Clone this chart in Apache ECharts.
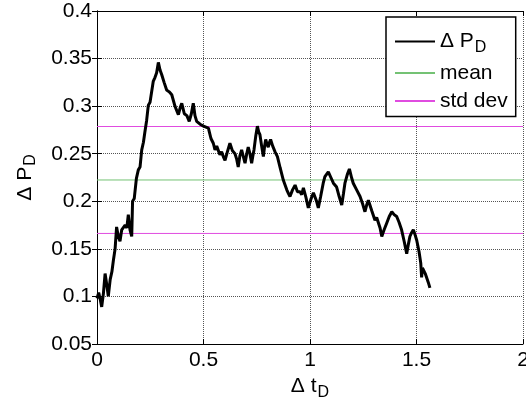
<!DOCTYPE html>
<html>
<head>
<meta charset="utf-8">
<script src="https://cdn.jsdelivr.net/npm/echarts@6/dist/echarts.min.js"></script>
<style>
html,body{margin:0;padding:0;background:#fff;}
#chart{width:526px;height:409px;}
</style>
</head>
<body>
<div id="chart"></div>
<script>
// Δ t_D values
const tValues = [0.000,0.008,0.015,0.022,0.030,0.038,0.046,0.053,0.062,0.070,0.077,0.085,0.092,0.100,0.108,0.116,0.124,0.132,0.140,0.147,0.155,0.163,0.167,0.175,0.185,0.194,0.202,0.210,0.218,0.225,0.233,0.241,0.249,0.257,0.264,0.272,0.280,0.288,0.296,0.304,0.315,0.327,0.339,0.351,0.366,0.382,0.390,0.398,0.410,0.422,0.433,0.443,0.452,0.460,0.468,0.484,0.500,0.507,0.523,0.535,0.546,0.554,0.562,0.570,0.577,0.585,0.593,0.601,0.612,0.624,0.636,0.648,0.656,0.663,0.671,0.679,0.687,0.695,0.703,0.710,0.718,0.726,0.732,0.737,0.745,0.753,0.759,0.765,0.773,0.781,0.787,0.792,0.798,0.804,0.810,0.815,0.825,0.836,0.847,0.860,0.875,0.891,0.899,0.906,0.918,0.930,0.941,0.953,0.961,0.969,0.980,0.992,1.004,1.016,1.023,1.031,1.039,1.050,1.062,1.070,1.078,1.086,1.098,1.110,1.118,1.125,1.137,1.149,1.157,1.164,1.175,1.185,1.195,1.203,1.219,1.235,1.246,1.258,1.266,1.274,1.290,1.305,1.313,1.321,1.329,1.337,1.348,1.360,1.372,1.384,1.395,1.407,1.418,1.430,1.442,1.454,1.462,1.469,1.477,1.485,1.493,1.501,1.512,1.520,1.524,1.528,1.535,1.541,1.548,1.555,1.563];
// Δ P_D values
const pValues = [0.098,0.104,0.097,0.089,0.103,0.124,0.112,0.100,0.118,0.126,0.138,0.150,0.173,0.163,0.158,0.170,0.168,0.175,0.172,0.186,0.170,0.163,0.200,0.203,0.224,0.233,0.236,0.254,0.262,0.273,0.285,0.301,0.304,0.306,0.326,0.330,0.335,0.346,0.338,0.333,0.325,0.317,0.315,0.312,0.300,0.291,0.298,0.303,0.292,0.290,0.284,0.292,0.303,0.290,0.284,0.281,0.279,0.278,0.277,0.266,0.261,0.254,0.258,0.257,0.249,0.252,0.247,0.243,0.252,0.261,0.253,0.250,0.244,0.236,0.248,0.254,0.247,0.240,0.250,0.257,0.250,0.240,0.248,0.254,0.268,0.279,0.273,0.270,0.258,0.247,0.258,0.265,0.260,0.257,0.262,0.265,0.258,0.252,0.247,0.235,0.222,0.212,0.208,0.205,0.212,0.217,0.210,0.210,0.207,0.214,0.205,0.193,0.202,0.209,0.210,0.200,0.193,0.205,0.219,0.226,0.225,0.231,0.225,0.219,0.218,0.215,0.205,0.196,0.208,0.219,0.228,0.234,0.225,0.219,0.212,0.205,0.198,0.189,0.196,0.201,0.190,0.180,0.183,0.184,0.172,0.163,0.170,0.177,0.184,0.189,0.186,0.184,0.178,0.170,0.158,0.145,0.155,0.163,0.167,0.170,0.165,0.159,0.147,0.135,0.120,0.130,0.128,0.124,0.122,0.115,0.109];
const meanValue = 0.2224;
const stdValue = 0.0562;
const xRange = [0, 2];

const FONT = "'Liberation Sans', Arial, Helvetica, sans-serif";
const curve = tValues.map((t, i) => [t, pValues[i]]);
const hLine = v => [[xRange[0], v], [xRange[1], v]];

const chart = echarts.init(document.getElementById('chart'), null, {renderer: 'canvas'});

const axisCommon = {
  type: 'value',
  axisLine: {show: true, lineStyle: {color: '#000', width: 1}},
  axisTick: {show: true, inside: true, length: 5, lineStyle: {color: '#000'}},
  axisLabel: {color: '#000', fontSize: 21, fontFamily: FONT},
  splitLine: {show: true, lineStyle: {color: '#555', type: 'dotted', width: 1}}
};

const rich = {
  a: {fontSize: 21, fontFamily: FONT, color: '#000'},
  sub: {fontSize: 16, fontFamily: FONT, color: '#000', padding: [12, 0, 0, 1]}
};

chart.setOption({
  animation: false,
  backgroundColor: '#fff',
  grid: {left: 97, right: 3, top: 11, bottom: 65, containLabel: false, outerBoundsMode: 'none'},
  xAxis: [
    Object.assign({}, axisCommon, {
      min: 0, max: 2, interval: 0.5, position: 'bottom',
      axisLabel: {color: '#000', fontSize: 21, fontFamily: FONT, margin: 6,
        formatter: v => String(v)},
      name: '{a|Δ t}{sub|D}', nameLocation: 'middle', nameGap: 28,
      nameTextStyle: {rich: rich}
    }),
    {
      type: 'value', min: 0, max: 2, interval: 0.5, position: 'top',
      axisLine: {show: true, lineStyle: {color: '#000'}},
      axisTick: {show: true, inside: true, length: 5, lineStyle: {color: '#000'}},
      axisLabel: {show: false}, splitLine: {show: false}
    }
  ],
  yAxis: [
    Object.assign({}, axisCommon, {
      min: 0.05, max: 0.4, interval: 0.05, position: 'left',
      axisLabel: {color: '#000', fontSize: 21, fontFamily: FONT, margin: 5,
        formatter: v => String(+v.toFixed(2))},
      name: '{a|Δ P}{sub|D}', nameLocation: 'middle', nameGap: 58, nameRotate: 90,
      nameTextStyle: {rich: rich}
    }),
    {
      type: 'value', min: 0.05, max: 0.4, interval: 0.05, position: 'right',
      axisLine: {show: true, lineStyle: {color: '#000'}},
      axisTick: {show: true, inside: true, length: 5, lineStyle: {color: '#000'}},
      axisLabel: {show: false}, splitLine: {show: false}
    }
  ],
  legend: {
    orient: 'vertical', left: 386, top: 17,
    backgroundColor: '#fff', borderColor: '#000', borderWidth: 1.5,
    padding: [14, 8, 5, 8], itemGap: 7, itemWidth: 40, itemHeight: 14,
    itemStyle: {opacity: 0},
    data: ['ΔPD', 'mean', 'std dev'],
    formatter: name => name === 'ΔPD' ? '{a|Δ P}{sub|D}' : '{a|' + name + '}',
    textStyle: {rich: rich, fontSize: 21, fontFamily: FONT, color: '#000'}
  },
  series: [
    {name: 'mean', type: 'line', data: hLine(meanValue), symbol: 'none',
      lineStyle: {color: '#74c274', width: 1}, itemStyle: {color: '#74c274', opacity: 0}, z: 2},
    {name: 'std dev', type: 'line', data: hLine(meanValue + stdValue), symbol: 'none',
      lineStyle: {color: '#e04ce0', width: 1}, itemStyle: {color: '#e04ce0', opacity: 0}, z: 2},
    {name: 'std dev', type: 'line', data: hLine(meanValue - stdValue), symbol: 'none',
      lineStyle: {color: '#e04ce0', width: 1}, itemStyle: {color: '#e04ce0', opacity: 0}, z: 2},
    {name: 'ΔPD', type: 'line', data: curve, symbol: 'none',
      lineStyle: {color: '#000', width: 3}, itemStyle: {color: '#000', opacity: 0}, z: 3}
  ]
});
</script>
</body>
</html>
